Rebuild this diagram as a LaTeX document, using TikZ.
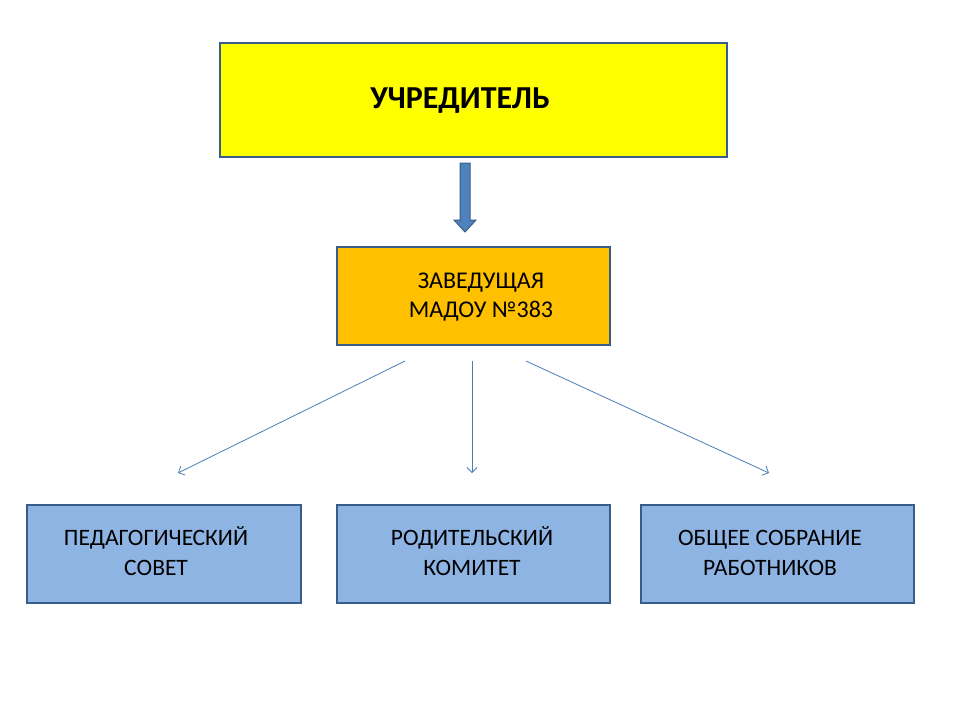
\documentclass[tikz,border=0pt]{standalone}
\usepackage{fontspec}
\setmainfont{Carlito}
\usetikzlibrary{arrows.meta,calc}
\definecolor{bordc}{HTML}{385D8A}
\definecolor{thinc}{HTML}{4A7EBB}
\definecolor{arrfill}{HTML}{4F81BD}
\definecolor{yel}{HTML}{FFFF00}
\definecolor{orng}{HTML}{FFC000}
\definecolor{lblue}{HTML}{8EB4E3}
\begin{document}
\begin{tikzpicture}[x=1pt,y=-1pt,
  box/.style={draw=bordc, line width=2pt, inner sep=0pt, anchor=north west},
  midtxt/.style={anchor=base, inner sep=0pt, font=\fontsize{24}{29.5}\selectfont},
  bottxt/.style={anchor=base, inner sep=0pt, font=\fontsize{23.5}{30}\selectfont},
  thin/.style={draw=thinc, line width=0.8pt, -{Straight Barb[length=5pt,width=10pt]}}]
\useasboundingbox[fill=white] (0,0) rectangle (960,720);
% boxes
\node[box, fill=yel, minimum width=507pt, minimum height=114pt] (top) at (219,42) {};
\node[box, fill=orng, minimum width=273pt, minimum height=98pt] (mid) at (336,246) {};
\node[box, fill=lblue, minimum width=274pt, minimum height=98pt] (b1) at (26,504) {};
\node[box, fill=lblue, minimum width=273pt, minimum height=98pt] (b2) at (336,504) {};
\node[box, fill=lblue, minimum width=273pt, minimum height=98pt] (b3) at (640,504) {};
% texts
\node[anchor=base, inner sep=0pt, font=\fontsize{32}{38}\selectfont\bfseries] (toptext) at (460,108) {УЧРЕДИТЕЛЬ};
\node[midtxt] (midA) at (481,288) {ЗАВЕДУЩАЯ};
\node[midtxt] (midB) at (481,317) {МАДОУ №383};
\node[bottxt] (t1a) at (156,545) {ПЕДАГОГИЧЕСКИЙ};
\node[bottxt] (t1b) at (156,575) {СОВЕТ};
\node[bottxt] (t2a) at (472,545) {РОДИТЕЛЬСКИЙ};
\node[bottxt] (t2b) at (472,575) {КОМИТЕТ};
\node[bottxt] (t3a) at (770,545) {ОБЩЕЕ СОБРАНИЕ};
\node[bottxt] (t3b) at (770,575) {РАБОТНИКОВ};
% block arrow
\coordinate (ba) at (465,163);
\coordinate (bt) at (465,232);
\fill[arrfill, draw=bordc, line width=1pt]
  ($(ba)+(-5,0)$) -- ($(ba)+(5,0)$) -- ($(bt)+(5,-12)$) -- ($(bt)+(11,-12)$)
  -- (bt) -- ($(bt)+(-11,-12)$) -- ($(bt)+(-5,-12)$) -- cycle;
% thin arrows
\coordinate (s1) at (405,361);
\coordinate (s2) at (472,361);
\coordinate (s3) at (526,361);
\coordinate (e1) at (178,473);
\coordinate (e2) at (472,473);
\coordinate (e3) at (769,473);
\draw[thin] (s1) -- (e1);
\draw[thin] (s2) -- (e2);
\draw[thin] (s3) -- (e3);
\end{tikzpicture}
\end{document}
